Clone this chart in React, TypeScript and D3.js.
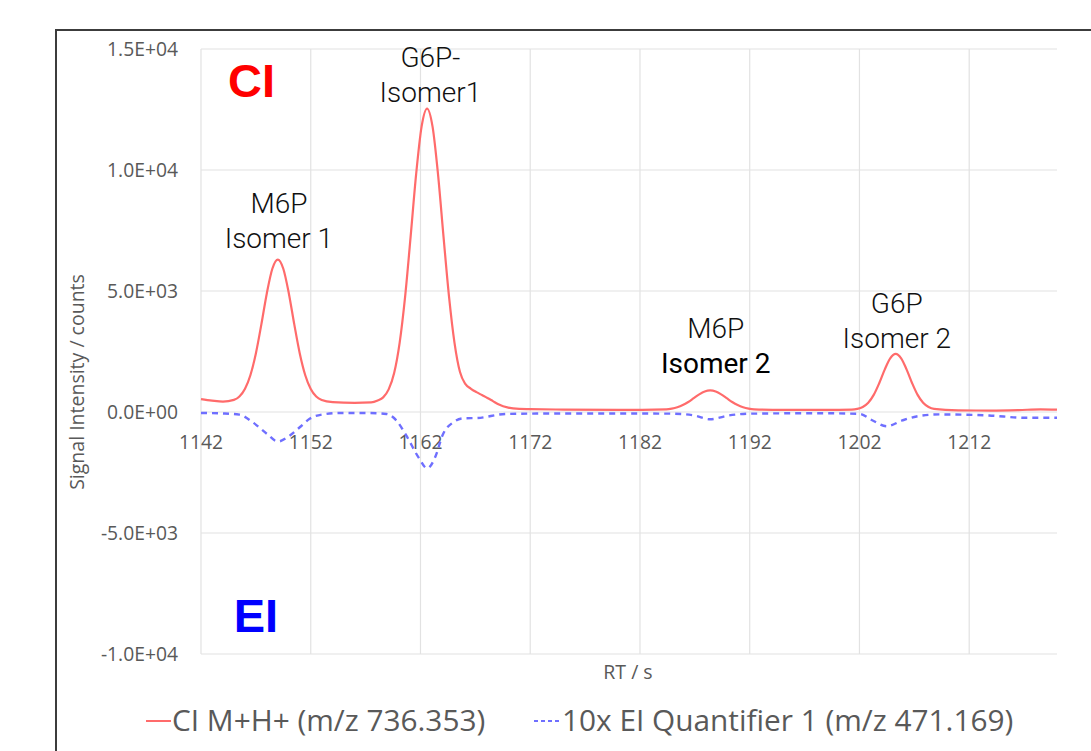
import React from "react";
import * as d3 from "d3";

// ---- data ----
const RT_TICKS = [1142, 1152, 1162, 1172, 1182, 1192, 1202, 1212];
const Y_TICKS = [-10000, -5000, 0, 5000, 10000, 15000];
const Y_TICK_LABELS = ["-1.0E+04", "-5.0E+03", "0.0E+00", "5.0E+03", "1.0E+04", "1.5E+04"];

const CI_RT = [
  1142, 1143, 1144, 1145, 1145.5, 1146, 1146.5, 1147, 1147.5, 1148, 1148.5, 1149, 1149.5, 1150, 1150.5, 1151,
  1151.5, 1152, 1152.5, 1153, 1154, 1156, 1157.5, 1158.1, 1158.6, 1159.1, 1159.6, 1160.1, 1160.6, 1161.1,
  1161.6, 1162.1, 1162.6, 1163.1, 1163.6, 1164.1, 1164.6, 1165.1, 1165.6, 1166.1, 1166.6, 1167.1, 1167.6,
  1168.1, 1168.6, 1169.1, 1170, 1171, 1172, 1175, 1180, 1184.4, 1184.9, 1185.4, 1185.9, 1186.4, 1186.9,
  1187.4, 1187.9, 1188.4, 1188.9, 1189.4, 1189.9, 1190.4, 1190.9, 1191.4, 1191.9, 1192.4, 1195, 1199, 1201.3,
  1201.8, 1202.3, 1202.8, 1203.3, 1203.8, 1204.3, 1204.8, 1205.3, 1205.8, 1206.3, 1206.8, 1207.3, 1207.8,
  1208.3, 1208.8, 1211, 1214, 1216.5, 1218.5, 1220,
];
const CI_VALUES = [
  530, 470, 430, 500, 640, 950, 1520, 2420, 3620, 4910, 5920, 6300, 5920, 4910, 3620, 2420,
  1520, 950, 640, 500, 410, 380, 400, 480, 605, 935, 1610, 2860, 4770, 7240,
  9810, 11790, 12540, 11790, 9810, 7240, 4770, 2860, 1650, 1150, 960, 820, 700,
  580, 450, 320, 180, 130, 120, 100, 90, 112, 140, 195, 285, 414, 572,
  728, 846, 890, 846, 728, 572, 414, 285, 195, 140, 112, 90, 90, 102,
  131, 208, 383, 707, 1190, 1751, 2217, 2400, 2217, 1751, 1190, 707, 383,
  208, 131, 70, 60, 80, 110, 95,
];

const EI_RT = [
  1142, 1144, 1145.5, 1146.7, 1148, 1149, 1150.1, 1151, 1151.9, 1153.1, 1154.7, 1157, 1158.9, 1159.8, 1160.7,
  1161.9, 1162.6, 1163.4, 1164, 1165, 1165.9, 1167.1, 1169.8, 1175, 1180, 1185, 1187, 1188.4, 1190, 1192,
  1198, 1202, 1203.2, 1204.5, 1205.9, 1207.2, 1209.3, 1213.8, 1217.2, 1220,
];
const EI_VALUES = [
  -40, -60, -110, -420, -900, -1220, -970, -630, -280, -100, -40, -40, -80, -350, -970,
  -1930, -2330, -1800, -970, -420, -260, -250, -80, -60, -60, -70, -150, -300, -150, -70,
  -50, -75, -350, -590, -350, -185, -100, -145, -240, -240,
];

const PEAK_LABELS = [
  { lines: ["M6P", "Isomer 1"], rt: 1149.1, value: 6780, weights: [300, 300] },
  { lines: ["G6P-", "Isomer1"], rt: 1162.9, value: 12810, weights: [300, 300] },
  { lines: ["M6P", "Isomer 2"], rt: 1188.9, value: 1630, weights: [300, 400] },
  { lines: ["G6P", "Isomer 2"], rt: 1205.4, value: 2640, weights: [300, 300] },
];

const MODE_LABELS = [
  { text: "CI", rt: 1146.6, value: 13016, color: "#FF0000" },
  { text: "EI", rt: 1147.0, value: -9090, color: "#0000FF" },
];

const LEGEND = [
  { label: "CI M+H+ (m/z 736.353)", color: "#FF6B6B", dash: "none" },
  { label: "10x EI Quantifier 1 (m/z 471.169)", color: "#6F6FFF", dash: "4 3" },
];

// ---- chart ----
const W = 1091;
const H = 751;
const M = { left: 201, right: 1057, top: 49, bottom: 654 };

export default function App() {
  const x = d3.scaleLinear().domain([1142, 1220]).range([M.left, M.right]);
  const y = d3.scaleLinear().domain([-10000, 15000]).range([M.bottom, M.top]);

  const ciData = CI_RT.map((rt, i) => [rt, CI_VALUES[i]] as [number, number]);
  const eiData = EI_RT.map((rt, i) => [rt, EI_VALUES[i]] as [number, number]);

  const line = d3
    .line<[number, number]>()
    .x((d) => x(d[0]))
    .y((d) => y(d[1]))
    .curve(d3.curveMonotoneX);

  const gray = "#595959";
  const font = "'Open Sans', sans-serif";

  return (
    <svg
      width={W}
      height={H}
      style={{ position: "absolute", left: 0, top: 0, background: "#fff" }}
    >
      <rect x={0} y={0} width={W} height={H} fill="#fff" />
      {/* outer frame */}
      <path d={`M56,${H} V30 H${W}`} fill="none" stroke="#3c3c3c" strokeWidth={2} />

      {/* gridlines */}
      {Y_TICKS.map((t) => (
        <line key={"gy" + t} x1={M.left} x2={M.right} y1={y(t)} y2={y(t)} stroke="#E2E2E2" strokeWidth={1.2} />
      ))}
      {RT_TICKS.map((t) => (
        <line key={"gx" + t} x1={x(t)} x2={x(t)} y1={M.top} y2={M.bottom} stroke="#E2E2E2" strokeWidth={1.2} />
      ))}

      {/* y tick labels */}
      {Y_TICKS.map((t, i) => (
        <text key={"ty" + t} x={178} y={y(t)} dy="0.35em" textAnchor="end" fontFamily={font} fontSize={19.3} fill={gray}>
          {Y_TICK_LABELS[i]}
        </text>
      ))}
      {/* x tick labels */}
      {RT_TICKS.map((t) => (
        <text key={"tx" + t} x={x(t)} y={y(0) + 30} dy="0.35em" textAnchor="middle" fontFamily={font} fontSize={19.3} fill={gray}>
          {t}
        </text>
      ))}

      {/* axis titles */}
      <text x={628} y={679} textAnchor="middle" fontFamily={font} fontSize={19.5} fill={gray}>
        RT / s
      </text>
      <text
        transform={`translate(84, 382) rotate(-90)`}
        textAnchor="middle"
        fontFamily={font}
        fontSize={19.5}
        fill={gray}
      >
        Signal Intensity / counts
      </text>

      {/* series */}
      <path d={line(eiData) || ""} fill="none" stroke="#6F6FFF" strokeWidth={2.4} strokeDasharray="6 5" />
      <path d={line(ciData) || ""} fill="none" stroke="#FF6B6B" strokeWidth={2.2} />

      {/* peak labels */}
      {PEAK_LABELS.map((p, i) => (
        <g key={"pl" + i}>
          {p.lines.map((ln, j) => (
            <text
              key={j}
              x={x(p.rt)}
              y={y(p.value) - (p.lines.length - 1 - j) * 35}
              textAnchor="middle"
              fontFamily="Roboto, sans-serif"
              fontWeight={p.weights[j]}
              fontSize={28}
              fill={p.weights[j] > 300 ? "#000" : "#111"}
            >
              {ln}
            </text>
          ))}
        </g>
      ))}

      {/* CI / EI labels */}
      {MODE_LABELS.map((m) => (
        <text
          key={m.text}
          x={x(m.rt)}
          y={y(m.value)}
          textAnchor="middle"
          fontFamily="'Liberation Sans', Arial, sans-serif"
          fontWeight="bold"
          fontSize={47}
          fill={m.color}
        >
          {m.text}
        </text>
      ))}

      {/* legend */}
      <g>
        <line x1={146} x2={171} y1={721} y2={721} stroke={LEGEND[0].color} strokeWidth={2} />
        <text x={172} y={731} fontFamily={font} fontSize={29.8} fill={gray}>
          {LEGEND[0].label}
        </text>
        <line x1={534} x2={561} y1={721} y2={721} stroke={LEGEND[1].color} strokeWidth={2} strokeDasharray={LEGEND[1].dash} />
        <text x={562} y={731} fontFamily={font} fontSize={29.8} fill={gray}>
          {LEGEND[1].label}
        </text>
      </g>
    </svg>
  );
}
